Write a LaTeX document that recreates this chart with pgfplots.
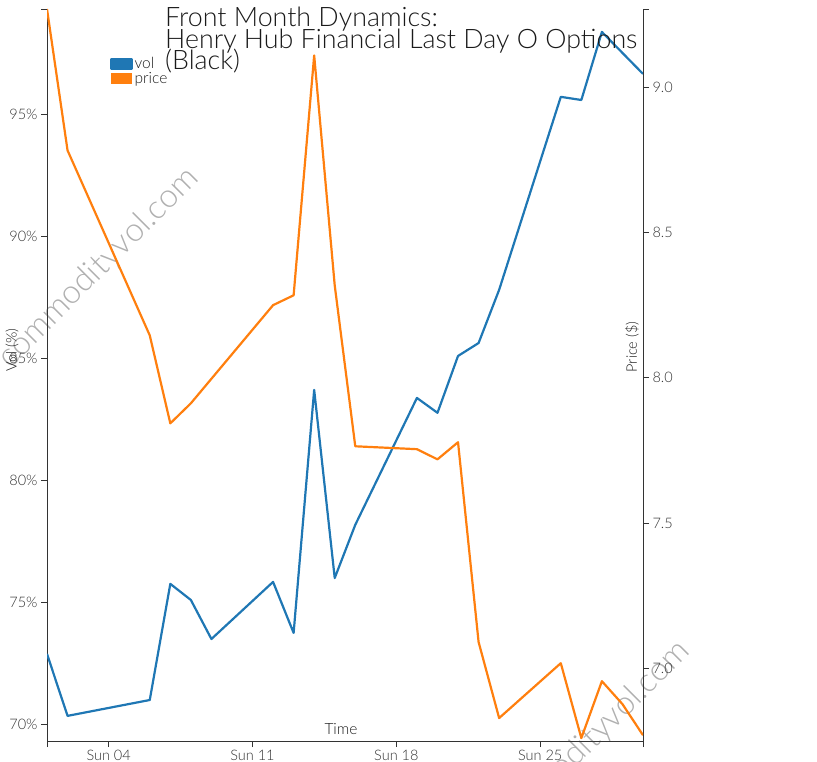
\documentclass[border=0pt]{standalone}
\usepackage{pgfplots}
\pgfplotsset{compat=1.18}
\usepackage{fontspec}
\IfFontExistsTF{Lato Light}{\setmainfont{Lato Light}}{\setmainfont{Lato}}
\definecolor{volc}{HTML}{1F77B4}
\definecolor{pricec}{HTML}{FF7F0E}
\definecolor{tickc}{HTML}{333333}
\definecolor{wm}{HTML}{B0B0B0}
\definecolor{titlec}{HTML}{1A1A1A}

\pgfplotstableread{
day vol
1 72.87
2 70.33
6 70.98
7 75.74
8 75.08
9 73.48
12 75.82
13 73.73
14 83.69
15 75.98
16 78.16
19 83.36
20 82.75
21 85.08
22 85.61
23 87.79
26 95.70
27 95.57
28 98.36
30 96.64
}\voldata

\pgfplotstableread{
day price
1 9.270
2 8.783
6 8.146
7 7.843
8 7.912
12 8.250
13 8.284
14 9.110
15 8.318
16 7.764
19 7.754
20 7.719
21 7.778
22 7.090
23 6.828
26 7.017
27 6.759
28 6.955
29 6.876
30 6.769
}\pricedata

\begin{document}
\begin{tikzpicture}[x=1pt,y=1pt]
\path[use as bounding box] (0,0) rectangle (817,761);
% watermarks
\node[rotate=45, text=wm, font=\fontsize{33}{33}\selectfont] at (99,493) {commodityvol.com};
\node[rotate=45, text=wm, font=\fontsize{33}{33}\selectfont] at (590,20) {commodityvol.com};

\pgfplotsset{
  every axis/.append style={
    /pgf/number format/assume math mode=true,
    tick label style={font=\fontsize{14.5}{14.5}\selectfont, text=tickc},
    tick align=outside,
    major tick length=6pt,
    every tick/.style={black!80, line width=0.8pt},
    axis line style={black!80, line width=1pt},
  }
}

\begin{axis}[
  at={(47pt,20pt)}, anchor=south west,
  scale only axis, width=596pt, height=732pt,
  xmin=1, xmax=30, ymin=69.3, ymax=99.3,
  axis y line*=left, axis x line*=bottom,
  xtick={4,11,18,25},
  xticklabels={Sun 04,Sun 11,Sun 18,Sun 25},
  extra x ticks={1,30}, extra x tick labels={},
  ytick={70,75,80,85,90,95},
  yticklabel={\pgfmathprintnumber[assume math mode=true]{\tick}\%},
  extra y ticks={99.3}, extra y tick labels={},
  legend style={at={(0.106,0.937)}, anchor=north west, draw=none, fill=none,
    font=\fontsize{15.5}{15.5}\selectfont, text=titlec, inner sep=0pt, row sep=-2pt},
  legend cell align=left,
  legend image code/.code={\fill[#1] (0pt,-5pt) rectangle (20pt,5pt);},
]
\addplot[color=volc, line width=2.2pt, line join=round] table[x=day, y=vol] {\voldata};
\addlegendentry{vol}
\addlegendimage{color=pricec}
\addlegendentry{price}
\end{axis}

\begin{axis}[
  at={(47pt,20pt)}, anchor=south west,
  scale only axis, width=596pt, height=732pt,
  xmin=1, xmax=30, ymin=6.749, ymax=9.27,
  axis y line*=right, axis x line=none,
  ytick={7,7.5,8,8.5,9},
  yticklabel style={/pgf/number format/fixed, /pgf/number format/fixed zerofill, /pgf/number format/precision=1},
  extra y ticks={9.27}, extra y tick labels={},
]
\addplot[color=pricec, line width=2.2pt, line join=round] table[x=day, y=price] {\pricedata};
\end{axis}

% axis labels
\node[rotate=90, text=titlec, font=\fontsize{14.5}{14.5}\selectfont] at (12,411) {Vol (\%)};
\node[rotate=90, text=titlec, font=\fontsize{14.5}{14.5}\selectfont] at (632,414) {Price (\$)};
\node[text=titlec, font=\fontsize{15.5}{15.5}\selectfont] at (341,32) {Time};

% title
\node[anchor=base west, inner sep=0pt, text=titlec, font=\fontsize{26.8}{26.8}\selectfont] at (165,734.3) {Front Month Dynamics:};
\node[anchor=base west, inner sep=0pt, text=titlec, font=\fontsize{26.8}{26.8}\selectfont] at (165,712.7) {Henry Hub Financial Last Day O Options};
\node[anchor=base west, inner sep=0pt, text=titlec, font=\fontsize{26.8}{26.8}\selectfont] at (165,691) {(Black)};
\end{tikzpicture}
\end{document}
